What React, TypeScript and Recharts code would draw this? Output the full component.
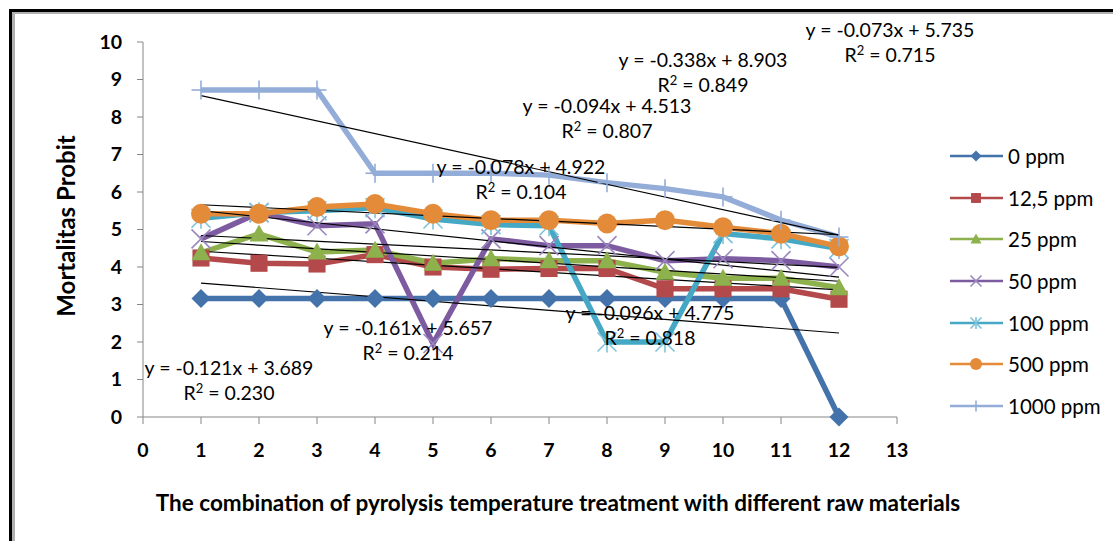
import React from "react";
import { LineChart, Line, XAxis, YAxis } from "recharts";

// Perlakuan (sumbu X)
const xValues = [1, 2, 3, 4, 5, 6, 7, 8, 9, 10, 11, 12];

// Nilai probit per konsentrasi
const ppm0 = [3.16, 3.16, 3.16, 3.16, 3.16, 3.16, 3.16, 3.16, 3.16, 3.16, 3.16, 0];
const ppm12_5 = [4.24, 4.1, 4.08, 4.33, 4.0, 3.94, 3.96, 3.96, 3.42, 3.42, 3.42, 3.14];
const ppm25 = [4.38, 4.88, 4.4, 4.45, 4.1, 4.22, 4.17, 4.17, 3.86, 3.7, 3.7, 3.45];
const ppm50 = [4.75, 5.45, 5.1, 5.15, 1.96, 4.75, 4.57, 4.57, 4.17, 4.22, 4.17, 4.0];
const ppm100 = [5.3, 5.45, 5.5, 5.58, 5.28, 5.13, 5.1, 2.0, 2.0, 4.89, 4.75, 4.49];
const ppm500 = [5.42, 5.42, 5.6, 5.68, 5.42, 5.25, 5.25, 5.16, 5.25, 5.06, 4.89, 4.55];
const ppm1000 = [8.72, 8.72, 8.72, 6.5, 6.5, 6.5, 6.45, 6.25, 6.09, 5.87, 5.25, 4.8];

const seriesNames = ["0 ppm", "12,5 ppm", "25 ppm", "50 ppm", "100 ppm", "500 ppm", "1000 ppm"];
const seriesValues = [ppm0, ppm12_5, ppm25, ppm50, ppm100, ppm500, ppm1000];

// Garis tren linear (nilai di x=1 dan x=12)
const trendStart = [3.57, 4.42, 4.68, 4.84, 5.5, 5.66, 8.57];
const trendEnd = [2.24, 3.39, 3.62, 3.99, 3.73, 4.86, 4.85];

const equations = [
  "y = -0.073x + 5.735",
  "y = -0.338x + 8.903",
  "y = -0.094x + 4.513",
  "y = -0.078x + 4.922",
  "y = -0.161x + 5.657",
  "y = -0.121x + 3.689",
  "y = -0.096x + 4.775",
];
const rSquared = ["0.715", "0.849", "0.807", "0.104", "0.214", "0.230", "0.818"];

const xTicks = [0, 1, 2, 3, 4, 5, 6, 7, 8, 9, 10, 11, 12, 13];
const yTicks = [0, 1, 2, 3, 4, 5, 6, 7, 8, 9, 10];

// Gaya
const colors = ["#4472AA", "#B3494A", "#8DB14C", "#7D5BA0", "#45A8C4", "#E48B3A", "#93ADD8"];
const markerColors = ["#4472AA", "#B3494A", "#8DB14C", "#9A87BE", "#7CC3DB", "#E48B3A", "#93ADD8"];
const shapes = ["diamond", "square", "triangle", "x", "star", "circle", "plus"];
const eqPos = [
  [890, 42],
  [703, 72],
  [607, 118],
  [521, 179],
  [408, 340],
  [229, 380],
  [650, 325],
];

const FONT = "Lato, 'Open Sans', sans-serif";

const Marker = ({ shape, cx, cy, color, s }: any) => {
  if (cx == null || cy == null) return null;
  switch (shape) {
    case "diamond":
      return (
        <polygon
          points={`${cx},${cy - s} ${cx + s},${cy} ${cx},${cy + s} ${cx - s},${cy}`}
          fill={color}
        />
      );
    case "square":
      return <rect x={cx - s * 0.9} y={cy - s * 0.9} width={s * 1.8} height={s * 1.8} fill={color} />;
    case "triangle":
      return (
        <polygon
          points={`${cx},${cy - s} ${cx + s},${cy + s * 0.8} ${cx - s},${cy + s * 0.8}`}
          fill={color}
        />
      );
    case "x":
      return (
        <g stroke={color} strokeWidth={1.6}>
          <line x1={cx - s} y1={cy - s} x2={cx + s} y2={cy + s} />
          <line x1={cx - s} y1={cy + s} x2={cx + s} y2={cy - s} />
        </g>
      );
    case "star":
      return (
        <g stroke={color} strokeWidth={1.6}>
          <line x1={cx - s} y1={cy - s} x2={cx + s} y2={cy + s} />
          <line x1={cx - s} y1={cy + s} x2={cx + s} y2={cy - s} />
          <line x1={cx} y1={cy - s * 1.1} x2={cx} y2={cy + s * 1.1} />
        </g>
      );
    case "circle":
      return <circle cx={cx} cy={cy} r={s} fill={color} />;
    case "plus":
      return (
        <g stroke={color} strokeWidth={1.6}>
          <line x1={cx - s} y1={cy} x2={cx + s} y2={cy} />
          <line x1={cx} y1={cy - s} x2={cx} y2={cy + s} />
        </g>
      );
    default:
      return null;
  }
};

const chartData = xValues.map((x, i) => {
  const row: any = { x };
  seriesValues.forEach((vals, k) => {
    row["s" + k] = vals[i];
  });
  return row;
});

const tickStyle = { fill: "#000", fontSize: 19.5, fontWeight: 700, fontFamily: FONT };

export default function App() {
  return (
    <div
      style={{
        position: "absolute",
        left: 0,
        top: 0,
        width: 1113,
        height: 541,
        background: "#fff",
        overflow: "hidden",
        fontFamily: FONT,
      }}
    >
      {/* bingkai */}
      <div
        style={{
          position: "absolute",
          left: 9,
          top: 9,
          width: 1200,
          height: 600,
          borderLeft: "3px solid #000",
          borderTop: "3px solid #000",
        }}
      >
        <div
          style={{
            position: "absolute",
            left: 0,
            top: 0,
            width: 1200,
            height: 600,
            borderLeft: "3px solid #b0b0b0",
            borderTop: "2px solid #b0b0b0",
          }}
        />
      </div>

      <div style={{ position: "absolute", left: 0, top: 0 }}>
        <LineChart
          width={1113}
          height={541}
          data={chartData}
          margin={{ top: 42, right: 216, bottom: 84, left: 0 }}
        >
          <XAxis
            dataKey="x"
            type="number"
            domain={[0, 13]}
            ticks={xTicks}
            interval={0}
            height={40}
            tickSize={7}
            tickMargin={19}
            tick={tickStyle}
            axisLine={{ stroke: "#868686" }}
            tickLine={{ stroke: "#868686" }}
          />
          <YAxis
            type="number"
            domain={[0, 10]}
            ticks={yTicks}
            interval={0}
            width={143}
            tickSize={6}
            tickMargin={15}
            tick={tickStyle}
            axisLine={{ stroke: "#868686" }}
            tickLine={{ stroke: "#868686" }}
          />
          {seriesNames.map((name, k) => (
            <Line
              key={name}
              name={name}
              dataKey={"s" + k}
              type="linear"
              stroke={colors[k]}
              strokeWidth={5.5}
              isAnimationActive={false}
              activeDot={false}
              dot={(p: any) => (
                <Marker
                  key={name + p.index}
                  shape={shapes[k]}
                  cx={p.cx}
                  cy={p.cy}
                  color={markerColors[k]}
                  s={k === 5 ? 10 : 9.5}
                />
              )}
            />
          ))}
          {trendStart.map((t0, k) => (
            <Line
              key={"trend" + k}
              data={[
                { x: 1, t: t0 },
                { x: 12, t: trendEnd[k] },
              ]}
              dataKey="t"
              type="linear"
              stroke="#000"
              strokeWidth={1.2}
              dot={false}
              activeDot={false}
              legendType="none"
              isAnimationActive={false}
            />
          ))}
        </LineChart>
      </div>

      {/* persamaan regresi */}
      {equations.map((eq, k) => (
        <div
          key={eq}
          style={{
            position: "absolute",
            left: eqPos[k][0],
            top: eqPos[k][1],
            transform: "translate(-50%, -50%)",
            textAlign: "center",
            whiteSpace: "nowrap",
            fontSize: 19.5,
            lineHeight: "20px",
            color: "#000",
          }}
        >
          <div>{eq}</div>
          <div style={{ marginTop: 5 }}>
            R<sup style={{ fontSize: 13, verticalAlign: "7px", lineHeight: 0 }}>2</sup> = {rSquared[k]}
          </div>
        </div>
      ))}

      {/* judul sumbu */}
      <div
        style={{
          position: "absolute",
          left: 65,
          top: 226,
          transform: "translate(-50%, -50%) rotate(-90deg)",
          whiteSpace: "nowrap",
          fontSize: 24,
          fontWeight: 700,
          color: "#000",
        }}
      >
        Mortalitas Probit
      </div>
      <div
        style={{
          position: "absolute",
          left: 558,
          top: 502,
          transform: "translate(-50%, -50%)",
          whiteSpace: "nowrap",
          fontSize: 22.5,
          fontWeight: 700,
          color: "#000",
        }}
      >
        The combination of pyrolysis temperature treatment with different raw materials
      </div>

      {/* legenda */}
      <div style={{ position: "absolute", left: 948, top: 135 }}>
        {seriesNames.map((name, k) => (
          <div key={name} style={{ display: "flex", alignItems: "center", height: 41.7 }}>
            <svg width={57} height={20}>
              <line x1={2} y1={10} x2={55} y2={10} stroke={colors[k]} strokeWidth={2.5} />
              <Marker shape={shapes[k]} cx={28} cy={10} color={markerColors[k]} s={k === 5 ? 6 : 5.5} />
            </svg>
            <span style={{ fontSize: 20.5, marginLeft: 3, color: "#000" }}>{name}</span>
          </div>
        ))}
      </div>
    </div>
  );
}
